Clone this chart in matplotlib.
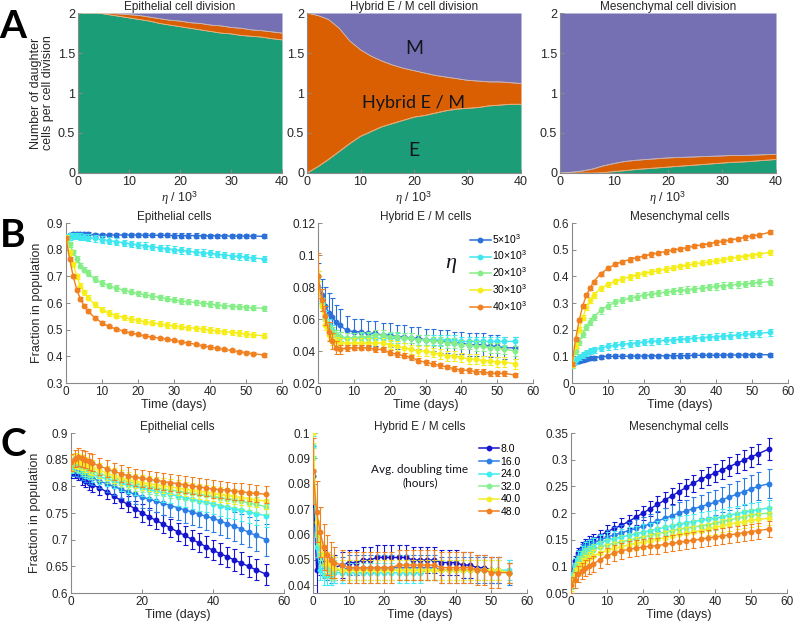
import matplotlib
matplotlib.use('Agg')
import matplotlib.pyplot as plt
from matplotlib.lines import Line2D
from matplotlib.ticker import FuncFormatter

plt.rcParams['font.family'] = ['Liberation Sans', 'DejaVu Sans']
plt.rcParams['mathtext.fontset'] = 'custom'
plt.rcParams['mathtext.rm'] = 'Liberation Sans'
plt.rcParams['mathtext.it'] = 'Liberation Serif:italic'

# ---------------- Row A data ----------------
eta = [0, 2, 4, 6, 8, 10, 12, 14, 16, 18, 20, 22, 24, 26, 28, 30, 32, 34, 36, 38, 40]
# boundaries: top of E band, top of hybrid band (rest up to 2 is M)
A1_E = [2.0, 2.0, 2.0, 1.98, 1.96, 1.94, 1.92, 1.90, 1.87, 1.85, 1.83, 1.81, 1.79, 1.77, 1.75, 1.74, 1.72, 1.71, 1.70, 1.68, 1.665]
A1_EH = [2.0, 2.0, 2.0, 1.995, 1.99, 1.98, 1.97, 1.95, 1.93, 1.91, 1.90, 1.88, 1.87, 1.85, 1.84, 1.82, 1.81, 1.79, 1.78, 1.765, 1.75]
A2_E = [0.0, 0.08, 0.17, 0.27, 0.37, 0.46, 0.52, 0.58, 0.62, 0.66, 0.70, 0.72, 0.75, 0.78, 0.80, 0.81, 0.82, 0.84, 0.85, 0.86, 0.86]
A2_EH = [2.0, 1.97, 1.92, 1.81, 1.65, 1.54, 1.46, 1.40, 1.35, 1.31, 1.28, 1.25, 1.22, 1.20, 1.18, 1.16, 1.15, 1.14, 1.14, 1.13, 1.12]
A3_E = [0, 0, 0, 0, 0.005, 0.02, 0.03, 0.045, 0.055, 0.065, 0.075, 0.085, 0.095, 0.105, 0.115, 0.125, 0.135, 0.14, 0.15, 0.16, 0.17]
A3_EH = [0, 0.01, 0.025, 0.05, 0.09, 0.12, 0.145, 0.16, 0.17, 0.18, 0.19, 0.195, 0.20, 0.205, 0.21, 0.215, 0.22, 0.22, 0.225, 0.23, 0.235]
A_titles = ['Epithelial cell division', 'Hybrid E / M cell division', 'Mesenchymal cell division']

# ---------------- Time points ----------------
T = [0, 1, 2, 3, 4, 5, 6, 8, 10, 12, 14, 16, 18, 20, 22, 24, 26, 28, 30, 32, 34, 36, 38, 40, 42, 44, 46, 48, 50, 52, 55]

# ---------------- Row B data (eta) ----------------
B_labels = [r'5$\times$10$^3$', r'10$\times$10$^3$', r'20$\times$10$^3$', r'30$\times$10$^3$', r'40$\times$10$^3$']
B_colors = ['#2b6fd9', '#3fe6f0', '#86ee88', '#f6ee1a', '#f08020']

B1_5 = [0.845, 0.855, 0.86, 0.86, 0.86, 0.858, 0.857, 0.856, 0.855, 0.855, 0.855, 0.855, 0.855, 0.855, 0.854, 0.854, 0.854, 0.854, 0.853, 0.853, 0.853, 0.853, 0.852, 0.852, 0.852, 0.852, 0.851, 0.851, 0.851, 0.851, 0.85]
B1_10 = [0.845, 0.85, 0.852, 0.851, 0.849, 0.847, 0.845, 0.842, 0.838, 0.834, 0.830, 0.826, 0.822, 0.818, 0.815, 0.811, 0.807, 0.804, 0.800, 0.797, 0.794, 0.791, 0.789, 0.786, 0.783, 0.780, 0.777, 0.775, 0.772, 0.769, 0.765]
B1_20 = [0.845, 0.82, 0.79, 0.765, 0.74, 0.725, 0.712, 0.69, 0.675, 0.665, 0.656, 0.648, 0.642, 0.636, 0.631, 0.626, 0.621, 0.616, 0.612, 0.608, 0.605, 0.602, 0.599, 0.596, 0.593, 0.59, 0.588, 0.586, 0.584, 0.582, 0.58]
B1_30 = [0.845, 0.79, 0.745, 0.70, 0.665, 0.64, 0.62, 0.595, 0.575, 0.562, 0.553, 0.546, 0.54, 0.535, 0.53, 0.526, 0.522, 0.518, 0.515, 0.511, 0.508, 0.505, 0.502, 0.499, 0.496, 0.493, 0.49, 0.487, 0.484, 0.481, 0.477]
B1_40 = [0.845, 0.765, 0.70, 0.65, 0.615, 0.59, 0.57, 0.545, 0.525, 0.512, 0.502, 0.495, 0.488, 0.482, 0.477, 0.472, 0.468, 0.464, 0.46, 0.455, 0.45, 0.445, 0.44, 0.435, 0.43, 0.426, 0.422, 0.418, 0.414, 0.41, 0.405]
B1_err = [0.008, 0.012, 0.01, 0.01, 0.006]

B2_5 = [0.087, 0.075, 0.068, 0.064, 0.061, 0.058, 0.056, 0.053, 0.052, 0.052, 0.051, 0.051, 0.05, 0.05, 0.049, 0.049, 0.048, 0.048, 0.047, 0.047, 0.046, 0.046, 0.045, 0.045, 0.044, 0.044, 0.044, 0.043, 0.043, 0.042, 0.042]
B2_10 = [0.087, 0.07, 0.062, 0.057, 0.053, 0.05, 0.049, 0.048, 0.048, 0.048, 0.048, 0.048, 0.048, 0.048, 0.048, 0.048, 0.048, 0.047, 0.047, 0.047, 0.047, 0.047, 0.047, 0.046, 0.046, 0.046, 0.046, 0.046, 0.046, 0.046, 0.046]
B2_20 = [0.087, 0.07, 0.06, 0.055, 0.052, 0.05, 0.049, 0.048, 0.048, 0.049, 0.049, 0.05, 0.05, 0.049, 0.049, 0.048, 0.048, 0.047, 0.047, 0.046, 0.046, 0.045, 0.045, 0.044, 0.044, 0.043, 0.043, 0.042, 0.042, 0.041, 0.04]
B2_30 = [0.087, 0.068, 0.056, 0.05, 0.047, 0.046, 0.045, 0.045, 0.045, 0.045, 0.045, 0.045, 0.045, 0.044, 0.043, 0.042, 0.041, 0.04, 0.04, 0.039, 0.038, 0.037, 0.037, 0.036, 0.035, 0.035, 0.034, 0.034, 0.033, 0.033, 0.032]
B2_40 = [0.087, 0.072, 0.062, 0.052, 0.046, 0.042, 0.041, 0.042, 0.042, 0.042, 0.042, 0.041, 0.041, 0.039, 0.038, 0.037, 0.036, 0.034, 0.033, 0.032, 0.031, 0.03, 0.029, 0.028, 0.028, 0.027, 0.027, 0.026, 0.026, 0.026, 0.025]
B2_err5 = [0.008, 0.01, 0.012, 0.012, 0.012, 0.011, 0.01, 0.009, 0.008, 0.008, 0.008, 0.008, 0.0075, 0.0075, 0.0075, 0.007, 0.007, 0.007, 0.007, 0.007, 0.007, 0.007, 0.007, 0.007, 0.007, 0.007, 0.007, 0.007, 0.007, 0.007, 0.007]
B2_err40 = [0.014, 0.007, 0.006, 0.006, 0.005, 0.004, 0.003, 0.002, 0.0015, 0.0015, 0.0015, 0.0015, 0.0015, 0.0015, 0.0015, 0.0015, 0.0015, 0.0015, 0.0015, 0.0015, 0.0015, 0.0015, 0.0015, 0.0015, 0.0015, 0.0015, 0.0015, 0.0015, 0.0015, 0.0015, 0.0015]
B2_err_other = [0.003, 0.003, 0.003]

B3_5 = [0.07, 0.078, 0.083, 0.087, 0.09, 0.093, 0.095, 0.098, 0.1, 0.1, 0.1, 0.101, 0.101, 0.101, 0.102, 0.102, 0.102, 0.103, 0.103, 0.103, 0.104, 0.104, 0.104, 0.104, 0.105, 0.105, 0.105, 0.105, 0.106, 0.106, 0.106]
B3_10 = [0.07, 0.085, 0.097, 0.106, 0.113, 0.119, 0.124, 0.131, 0.137, 0.141, 0.145, 0.148, 0.151, 0.154, 0.156, 0.158, 0.16, 0.162, 0.164, 0.166, 0.168, 0.17, 0.172, 0.174, 0.176, 0.178, 0.18, 0.182, 0.184, 0.186, 0.19]
B3_20 = [0.07, 0.12, 0.155, 0.185, 0.21, 0.23, 0.248, 0.272, 0.29, 0.302, 0.311, 0.318, 0.324, 0.329, 0.333, 0.337, 0.341, 0.344, 0.347, 0.35, 0.353, 0.356, 0.359, 0.362, 0.365, 0.367, 0.37, 0.372, 0.375, 0.377, 0.38]
B3_30 = [0.07, 0.14, 0.2, 0.245, 0.285, 0.31, 0.33, 0.355, 0.37, 0.381, 0.39, 0.398, 0.405, 0.411, 0.417, 0.422, 0.427, 0.432, 0.437, 0.442, 0.447, 0.451, 0.455, 0.459, 0.463, 0.467, 0.471, 0.475, 0.479, 0.483, 0.49]
B3_40 = [0.07, 0.165, 0.235, 0.29, 0.33, 0.355, 0.38, 0.41, 0.43, 0.445, 0.455, 0.463, 0.47, 0.476, 0.482, 0.488, 0.493, 0.498, 0.503, 0.508, 0.513, 0.518, 0.522, 0.527, 0.531, 0.536, 0.541, 0.546, 0.551, 0.556, 0.565]
B3_err = [0.008, 0.012, 0.012, 0.01, 0.008]

# ---------------- Row C data (doubling time) ----------------
C_labels = ['8.0', '16.0', '24.0', '32.0', '40.0', '48.0']
C_colors = ['#1515d0', '#2a7ee6', '#40eef0', '#86f090', '#f2ee2a', '#f08020']

C1_8 = [0.825, 0.825, 0.822, 0.815, 0.81, 0.806, 0.803, 0.797, 0.79, 0.782, 0.774, 0.766, 0.758, 0.75, 0.743, 0.736, 0.729, 0.722, 0.715, 0.708, 0.701, 0.694, 0.687, 0.68, 0.674, 0.668, 0.662, 0.656, 0.65, 0.644, 0.635]
C1_16 = [0.83, 0.83, 0.828, 0.824, 0.82, 0.817, 0.815, 0.81, 0.805, 0.8, 0.795, 0.79, 0.785, 0.78, 0.776, 0.772, 0.768, 0.764, 0.76, 0.756, 0.752, 0.748, 0.744, 0.74, 0.735, 0.73, 0.725, 0.72, 0.714, 0.708, 0.70]
C1_24 = [0.835, 0.838, 0.836, 0.832, 0.828, 0.825, 0.822, 0.818, 0.814, 0.81, 0.806, 0.803, 0.8, 0.797, 0.794, 0.791, 0.788, 0.785, 0.782, 0.779, 0.776, 0.773, 0.77, 0.767, 0.764, 0.761, 0.758, 0.755, 0.752, 0.749, 0.745]
C1_32 = [0.84, 0.842, 0.84, 0.837, 0.834, 0.831, 0.828, 0.824, 0.82, 0.816, 0.812, 0.809, 0.806, 0.803, 0.8, 0.797, 0.795, 0.793, 0.791, 0.789, 0.787, 0.785, 0.783, 0.781, 0.779, 0.777, 0.775, 0.772, 0.769, 0.766, 0.762]
C1_40 = [0.845, 0.848, 0.847, 0.844, 0.841, 0.838, 0.835, 0.83, 0.825, 0.82, 0.816, 0.813, 0.81, 0.807, 0.805, 0.803, 0.801, 0.799, 0.797, 0.795, 0.793, 0.791, 0.789, 0.787, 0.785, 0.783, 0.781, 0.779, 0.777, 0.775, 0.772]
C1_48 = [0.845, 0.852, 0.855, 0.853, 0.85, 0.847, 0.844, 0.838, 0.833, 0.828, 0.824, 0.82, 0.817, 0.815, 0.813, 0.811, 0.809, 0.807, 0.805, 0.803, 0.801, 0.799, 0.797, 0.795, 0.794, 0.793, 0.791, 0.79, 0.788, 0.787, 0.785]
C1_err8 = [0.01, 0.01, 0.011, 0.012, 0.012, 0.013, 0.013, 0.013, 0.014, 0.014, 0.015, 0.015, 0.015, 0.016, 0.016, 0.016, 0.017, 0.017, 0.017, 0.018, 0.018, 0.018, 0.019, 0.019, 0.019, 0.019, 0.02, 0.02, 0.02, 0.02, 0.02]
C1_err16 = [0.01, 0.01, 0.011, 0.012, 0.012, 0.013, 0.013, 0.014, 0.015, 0.016, 0.017, 0.018, 0.019, 0.02, 0.02, 0.021, 0.022, 0.022, 0.023, 0.024, 0.024, 0.025, 0.025, 0.026, 0.026, 0.027, 0.027, 0.028, 0.028, 0.029, 0.03]
C1_err24 = [0.01, 0.01, 0.011, 0.012, 0.012, 0.012, 0.013, 0.013, 0.014, 0.014, 0.015, 0.015, 0.016, 0.016, 0.016, 0.017, 0.017, 0.017, 0.018, 0.018, 0.018, 0.019, 0.019, 0.019, 0.019, 0.02, 0.02, 0.02, 0.02, 0.021, 0.021]
C1_err_other = [0.014, 0.014, 0.016]

C2_8 = [0.083, 0.046, 0.05, 0.049, 0.048, 0.047, 0.047, 0.048, 0.049, 0.049, 0.05, 0.05, 0.051, 0.051, 0.051, 0.051, 0.051, 0.05, 0.05, 0.05, 0.05, 0.049, 0.049, 0.049, 0.048, 0.048, 0.047, 0.047, 0.046, 0.046, 0.045]
C2_16 = [0.085, 0.06, 0.052, 0.048, 0.047, 0.046, 0.046, 0.046, 0.047, 0.047, 0.047, 0.047, 0.047, 0.047, 0.047, 0.047, 0.047, 0.047, 0.047, 0.047, 0.047, 0.046, 0.046, 0.046, 0.046, 0.046, 0.046, 0.046, 0.046, 0.046, 0.045]
C2_24 = [0.095, 0.055, 0.046, 0.044, 0.044, 0.044, 0.045, 0.045, 0.045, 0.045, 0.045, 0.045, 0.045, 0.045, 0.045, 0.045, 0.045, 0.045, 0.045, 0.046, 0.046, 0.046, 0.046, 0.046, 0.046, 0.046, 0.046, 0.046, 0.046, 0.046, 0.046]
C2_32 = [0.09, 0.06, 0.052, 0.048, 0.047, 0.046, 0.046, 0.046, 0.046, 0.046, 0.046, 0.046, 0.046, 0.046, 0.046, 0.046, 0.046, 0.046, 0.046, 0.046, 0.046, 0.046, 0.046, 0.046, 0.046, 0.046, 0.046, 0.046, 0.046, 0.046, 0.045]
C2_40 = [0.1, 0.065, 0.057, 0.052, 0.049, 0.048, 0.047, 0.046, 0.046, 0.046, 0.046, 0.046, 0.046, 0.046, 0.046, 0.046, 0.046, 0.046, 0.046, 0.046, 0.046, 0.046, 0.046, 0.046, 0.046, 0.046, 0.046, 0.046, 0.046, 0.046, 0.045]
C2_48 = [0.085, 0.069, 0.061, 0.055, 0.052, 0.05, 0.049, 0.048, 0.047, 0.047, 0.047, 0.047, 0.047, 0.047, 0.047, 0.048, 0.048, 0.048, 0.048, 0.048, 0.048, 0.047, 0.047, 0.047, 0.047, 0.047, 0.046, 0.046, 0.045, 0.045, 0.045]
C2_err8 = [0.012, 0.01, 0.006, 0.005, 0.005, 0.005, 0.005, 0.005, 0.005, 0.005, 0.005, 0.005, 0.005, 0.005, 0.005, 0.005, 0.005, 0.005, 0.005, 0.005, 0.005, 0.005, 0.005, 0.005, 0.005, 0.005, 0.005, 0.005, 0.005, 0.005, 0.004]
C2_err48 = [0.013, 0.012, 0.01, 0.009, 0.008, 0.007, 0.006, 0.006, 0.006, 0.006, 0.006, 0.006, 0.006, 0.006, 0.006, 0.006, 0.006, 0.006, 0.006, 0.006, 0.006, 0.006, 0.006, 0.006, 0.006, 0.006, 0.006, 0.006, 0.006, 0.006, 0.004]
C2_err_other = [0.005, 0.004, 0.004, 0.004]

C3_8 = [0.08, 0.11, 0.125, 0.135, 0.14, 0.145, 0.149, 0.157, 0.165, 0.171, 0.177, 0.184, 0.192, 0.2, 0.208, 0.216, 0.224, 0.232, 0.24, 0.248, 0.256, 0.263, 0.269, 0.275, 0.281, 0.287, 0.293, 0.299, 0.305, 0.311, 0.32]
C3_16 = [0.08, 0.105, 0.12, 0.13, 0.136, 0.14, 0.143, 0.149, 0.155, 0.159, 0.163, 0.167, 0.171, 0.175, 0.18, 0.185, 0.19, 0.195, 0.2, 0.204, 0.208, 0.212, 0.216, 0.22, 0.225, 0.23, 0.235, 0.24, 0.245, 0.25, 0.255]
C3_24 = [0.075, 0.1, 0.114, 0.123, 0.13, 0.135, 0.138, 0.144, 0.149, 0.152, 0.155, 0.158, 0.161, 0.164, 0.167, 0.17, 0.173, 0.176, 0.179, 0.182, 0.184, 0.186, 0.188, 0.19, 0.193, 0.196, 0.199, 0.202, 0.204, 0.206, 0.21]
C3_32 = [0.07, 0.094, 0.107, 0.116, 0.122, 0.126, 0.13, 0.136, 0.14, 0.143, 0.146, 0.149, 0.152, 0.155, 0.158, 0.161, 0.164, 0.167, 0.17, 0.172, 0.174, 0.176, 0.178, 0.181, 0.184, 0.187, 0.19, 0.193, 0.196, 0.198, 0.2]
C3_40 = [0.065, 0.085, 0.096, 0.104, 0.11, 0.115, 0.119, 0.125, 0.13, 0.134, 0.137, 0.14, 0.143, 0.145, 0.148, 0.151, 0.154, 0.157, 0.16, 0.162, 0.164, 0.167, 0.17, 0.173, 0.176, 0.179, 0.182, 0.184, 0.186, 0.188, 0.19]
C3_48 = [0.065, 0.075, 0.085, 0.092, 0.097, 0.1, 0.104, 0.112, 0.12, 0.125, 0.129, 0.132, 0.134, 0.136, 0.138, 0.139, 0.141, 0.143, 0.145, 0.147, 0.149, 0.151, 0.153, 0.155, 0.157, 0.159, 0.161, 0.163, 0.165, 0.167, 0.17]
C3_err8 = [0.01, 0.01, 0.01, 0.011, 0.011, 0.011, 0.012, 0.012, 0.012, 0.013, 0.013, 0.013, 0.014, 0.014, 0.014, 0.015, 0.015, 0.015, 0.016, 0.016, 0.016, 0.017, 0.017, 0.017, 0.018, 0.018, 0.018, 0.019, 0.019, 0.019, 0.02]
C3_err16 = [0.01, 0.01, 0.01, 0.011, 0.011, 0.011, 0.012, 0.012, 0.013, 0.014, 0.015, 0.016, 0.017, 0.018, 0.018, 0.019, 0.02, 0.02, 0.021, 0.021, 0.022, 0.022, 0.023, 0.023, 0.024, 0.024, 0.025, 0.025, 0.026, 0.026, 0.027]
C3_err_other = [0.015, 0.012, 0.012, 0.015]

# ---------------- Figure ----------------
W, H = 794, 625
fig = plt.figure(figsize=(W / 100, H / 100), dpi=100)
fig.patch.set_facecolor('white')


def px_axes(l, t, w, h):
    return fig.add_axes([l / W, 1 - (t + h) / H, w / W, h / H])


SPINE = '#8a8a8a'
TXT = '#262626'


def style(ax, fs=8):
    for s in ['top', 'right']:
        ax.spines[s].set_visible(False)
    for s in ['left', 'bottom']:
        ax.spines[s].set_color(SPINE)
        ax.spines[s].set_linewidth(0.8)
    ax.tick_params(direction='in', length=3, width=0.7, color=SPINE,
                   labelsize=fs, labelcolor=TXT, pad=2)
    ax.yaxis.set_major_formatter(FuncFormatter(lambda v, p: ('%g' % round(v, 6))))
    ax.xaxis.set_major_formatter(FuncFormatter(lambda v, p: ('%g' % round(v, 6))))


GREEN, ORANGE, PURPLE = '#1b9e77', '#d95f02', '#7570b3'
A_pos = [(78, 13, 204, 160), (307, 13, 214, 160), (560, 13, 216, 160)]
A_data = [(A1_E, A1_EH), (A2_E, A2_EH), (A3_E, A3_EH)]
for i, (pos, (e, eh)) in enumerate(zip(A_pos, A_data)):
    ax = px_axes(*pos)
    ax.fill_between(eta, 0, e, color=GREEN, lw=0)
    ax.fill_between(eta, e, eh, color=ORANGE, lw=0)
    ax.fill_between(eta, eh, 2, color=PURPLE, lw=0)
    ax.plot(eta, e, color='#e8c8a8', lw=0.5)
    ax.plot(eta, eh, color='#e8c8a8', lw=0.5)
    ax.set_xlim(0, 40)
    ax.set_ylim(0, 2)
    ax.set_xticks([0, 10, 20, 30, 40])
    ax.set_yticks([0, 0.5, 1, 1.5, 2])
    style(ax, 9)
    ax.set_title(A_titles[i], fontsize=8.5, color=TXT, pad=2)
    ax.set_xlabel(r'$\eta$ / 10$^3$', fontsize=9, color=TXT, labelpad=1)
    if i == 0:
        ax.set_ylabel('Number of daughter\ncells per cell division', fontsize=9,
                      color=TXT, linespacing=1.0, labelpad=3)
    if i == 1:
        ax.text(20, 1.55, 'M', ha='center', va='center', fontsize=14,
                family='Lato', color='#15151f')
        ax.text(20, 0.88, 'Hybrid E / M', ha='center', va='center', fontsize=13,
                family='Lato', color='#15151f')
        ax.text(20, 0.28, 'E', ha='center', va='center', fontsize=14,
                family='Lato', color='#15151f')


def eb(ax, y, err, c, zorder):
    ax.errorbar(T, y, yerr=err, fmt='-o', color=c, ms=3.2, lw=1.0,
                elinewidth=0.8, capsize=1.8, capthick=0.8, mfc=c, mec=c,
                zorder=zorder)


sub_titles = ['Epithelial cells', 'Hybrid E / M cells', 'Mesenchymal cells']

# Row B
B_pos = [(66, 223, 216, 160), (318, 223, 215, 160), (572, 223, 216, 160)]
B_series = [
    ([B1_5, B1_10, B1_20, B1_30, B1_40], B1_err),
    ([B2_5, B2_10, B2_20, B2_30, B2_40], [B2_err5] + B2_err_other + [B2_err40]),
    ([B3_5, B3_10, B3_20, B3_30, B3_40], B3_err),
]
B_ylims = [(0.3, 0.9), (0.02, 0.12), (0, 0.6)]
B_yticks = [[0.3, 0.4, 0.5, 0.6, 0.7, 0.8, 0.9],
            [0.02, 0.04, 0.06, 0.08, 0.1, 0.12],
            [0, 0.1, 0.2, 0.3, 0.4, 0.5, 0.6]]
for i in range(3):
    ax = px_axes(*B_pos[i])
    ys, errs = B_series[i]
    for k, (y, e) in enumerate(zip(ys, errs)):
        eb(ax, y, e, B_colors[k], 3 + k)
    ax.set_xlim(0, 60)
    ax.set_ylim(*B_ylims[i])
    ax.set_xticks([0, 10, 20, 30, 40, 50, 60])
    ax.set_yticks(B_yticks[i])
    style(ax, 8.5)
    ax.set_title(sub_titles[i], fontsize=8.5, color=TXT, pad=2)
    ax.set_xlabel('Time (days)', fontsize=9, color=TXT, labelpad=1)
    if i == 0:
        ax.set_ylabel('Fraction in population', fontsize=9, color=TXT, labelpad=3)
    if i == 1:
        handles = [Line2D([], [], color=c, marker='o', ms=3.2, lw=1.1) for c in B_colors]
        ax.legend(handles, B_labels, loc='upper right', frameon=False, fontsize=7.5,
                  handlelength=2.0, handletextpad=0.1, labelspacing=0.35,
                  borderaxespad=0.2, bbox_to_anchor=(1.0, 0.98))
        ax.text(0.62, 0.74, r'$\eta$', transform=ax.transAxes, fontsize=16,
                ha='center', va='center', color='#15151f')

# Row C
C_pos = [(71, 433, 213, 160), (313, 433, 214, 160), (571, 433, 216, 160)]
C_series = [
    ([C1_8, C1_16, C1_24, C1_32, C1_40, C1_48], [C1_err8, C1_err16, C1_err24] + C1_err_other),
    ([C2_8, C2_16, C2_24, C2_32, C2_40, C2_48], [C2_err8] + C2_err_other + [C2_err48]),
    ([C3_8, C3_16, C3_24, C3_32, C3_40, C3_48], [C3_err8, C3_err16] + C3_err_other),
]
C_ylims = [(0.6, 0.9), (0.037, 0.1), (0.05, 0.35)]
C_yticks = [[0.6, 0.65, 0.7, 0.75, 0.8, 0.85, 0.9],
            [0.04, 0.05, 0.06, 0.07, 0.08, 0.09, 0.1],
            [0.05, 0.1, 0.15, 0.2, 0.25, 0.3, 0.35]]
C_xticks = [[0, 20, 40, 60], [0, 10, 20, 30, 40, 50, 60], [0, 10, 20, 30, 40, 50, 60]]
for i in range(3):
    ax = px_axes(*C_pos[i])
    ys, errs = C_series[i]
    for k, (y, e) in enumerate(zip(ys, errs)):
        eb(ax, y, e, C_colors[k], 3 + k)
    ax.set_xlim(0, 60)
    ax.set_ylim(*C_ylims[i])
    ax.set_xticks(C_xticks[i])
    ax.set_yticks(C_yticks[i])
    style(ax, 8.5)
    ax.set_title(sub_titles[i], fontsize=8.5, color=TXT, pad=2)
    ax.set_xlabel('Time (days)', fontsize=9, color=TXT, labelpad=1)
    if i == 0:
        ax.set_ylabel('Fraction in population', fontsize=9, color=TXT, labelpad=3)
    if i == 1:
        handles = [Line2D([], [], color=c, marker='o', ms=3.2, lw=1.1) for c in C_colors]
        ax.legend(handles, C_labels, loc='upper right', frameon=False, fontsize=7.5,
                  handlelength=2.0, handletextpad=0.1, labelspacing=0.25,
                  borderaxespad=0.2, bbox_to_anchor=(1.0, 0.97))
        ax.text(0.5, 0.73, 'Avg. doubling time\n(hours)', transform=ax.transAxes,
                fontsize=8.5, ha='center', va='center', family='Lato',
                color='#15151f', linespacing=1.25)

# Panel letters
for lab, y in [('A', 26), ('B', 236), ('C', 445)]:
    fig.text(13 / W, 1 - y / H, lab, fontsize=28, fontweight='bold',
             family='Lato', ha='center', va='center', color='black')

fig.savefig('out.png', dpi=100, facecolor='white')
